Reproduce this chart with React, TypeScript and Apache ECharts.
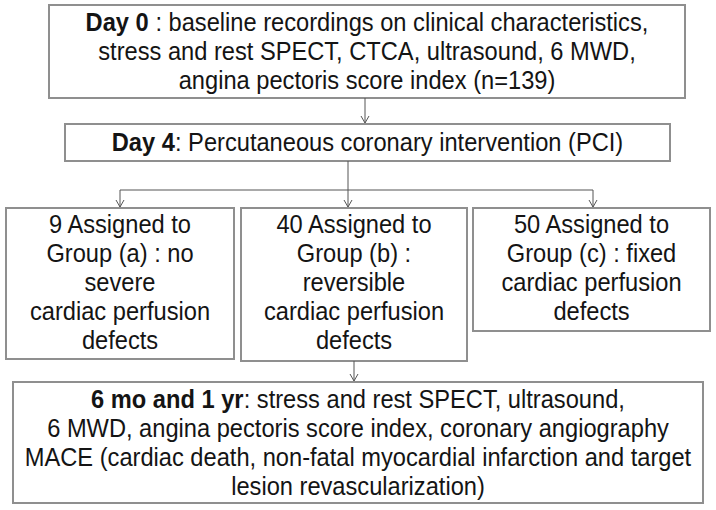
import React, { useEffect, useRef } from "react";
import * as echarts from "echarts";

// ---- Flowchart content (texts) ----
const day0Lines = [
  "{b|Day 0} : baseline recordings on clinical characteristics,",
  "stress and rest SPECT, CTCA, ultrasound, 6 MWD,",
  "angina pectoris score index (n=139)",
];
const day4Lines = ["{b|Day 4}: Percutaneous coronary intervention (PCI)"];
const groupALines = ["9 Assigned to", "Group (a) : no", "severe", "cardiac perfusion", "defects"];
const groupBLines = ["40 Assigned to", "Group (b) :", "reversible", "cardiac perfusion", "defects"];
const groupCLines = ["50 Assigned to", "Group (c) : fixed", "cardiac perfusion", "defects"];
const followLines = [
  "{b|6 mo and 1 yr}: stress and rest SPECT, ultrasound,",
  "6 MWD, angina pectoris score index, coronary angiography",
  "MACE (cardiac death, non-fatal myocardial infarction and target",
  "lesion revascularization)",
];

const FONT = "'Liberation Sans', Arial, Helvetica, sans-serif";
const FS = 26;
const SX = 0.91;
const LH = 29;
const TEXT_COLOR = "#141414";
const BOX_COLOR = "#8f8f8f";
const LINE_COLOR = "#555555";

type Box = { x: number; y: number; w: number; h: number; lines: string[]; firstY?: number };

function boxElems(b: Box): any[] {
  const els: any[] = [
    {
      type: "rect",
      shape: { x: b.x, y: b.y, width: b.w, height: b.h },
      style: { fill: "#ffffff", stroke: BOX_COLOR, lineWidth: 2 },
    },
  ];
  const n = b.lines.length;
  const start = b.firstY !== undefined ? b.firstY : b.y + b.h / 2 - ((n - 1) * LH) / 2;
  b.lines.forEach((t, i) => {
    els.push({
      type: "text",
      x: b.x + b.w / 2,
      y: start + i * LH,
      scaleX: SX,
      style: {
        text: t,
        fill: TEXT_COLOR,
        fontSize: FS,
        fontFamily: FONT,
        align: "center",
        verticalAlign: "middle",
        rich: {
          b: { fontWeight: "bold", fontSize: FS, fontFamily: FONT, fill: TEXT_COLOR },
        },
      },
    });
  });
  return els;
}

function arrow(x: number, y1: number, y2: number): any[] {
  return [
    {
      type: "line",
      shape: { x1: x, y1, x2: x, y2: y2 - 1 },
      style: { stroke: LINE_COLOR, lineWidth: 1 },
    },
    {
      type: "polyline",
      shape: { points: [[x - 4, y2 - 8], [x, y2 - 1], [x + 4, y2 - 8]] },
      style: { stroke: LINE_COLOR, lineWidth: 1, fill: "none" },
    },
  ];
}

export default function App() {
  const ref = useRef<HTMLDivElement>(null);
  useEffect(() => {
    if (!ref.current) return;
    const chart = echarts.init(ref.current, null, { renderer: "svg" });

    const boxes: Box[] = [
      { x: 49, y: 5, w: 636, h: 93, lines: day0Lines },
      { x: 65, y: 124, w: 605, h: 37, lines: day4Lines },
      { x: 6, y: 208, w: 228, h: 151, lines: groupALines, firstY: 224 },
      { x: 241, y: 208, w: 226, h: 153, lines: groupBLines, firstY: 224 },
      { x: 473, y: 208, w: 237, h: 123, lines: groupCLines, firstY: 224 },
      { x: 13, y: 382, w: 690, h: 121, lines: followLines },
    ];

    const elements: any[] = [];
    boxes.forEach((b) => elements.push(...boxElems(b)));
    // connectors
    elements.push(...arrow(365, 98, 124));
    elements.push({
      type: "line",
      shape: { x1: 348, y1: 161, x2: 348, y2: 190 },
      style: { stroke: LINE_COLOR, lineWidth: 1 },
    });
    elements.push({
      type: "line",
      shape: { x1: 120, y1: 190, x2: 593, y2: 190 },
      style: { stroke: LINE_COLOR, lineWidth: 1 },
    });
    elements.push(...arrow(120, 190, 208));
    elements.push(...arrow(348, 190, 208));
    elements.push(...arrow(593, 190, 208));
    elements.push(...arrow(354, 361, 382));

    chart.setOption({
      animation: false,
      backgroundColor: "#ffffff",
      graphic: { elements },
    });
    return () => chart.dispose();
  }, []);
  return (
    <div
      ref={ref}
      style={{ position: "fixed", left: 0, top: 0, width: 716, height: 510 }}
    />
  );
}
